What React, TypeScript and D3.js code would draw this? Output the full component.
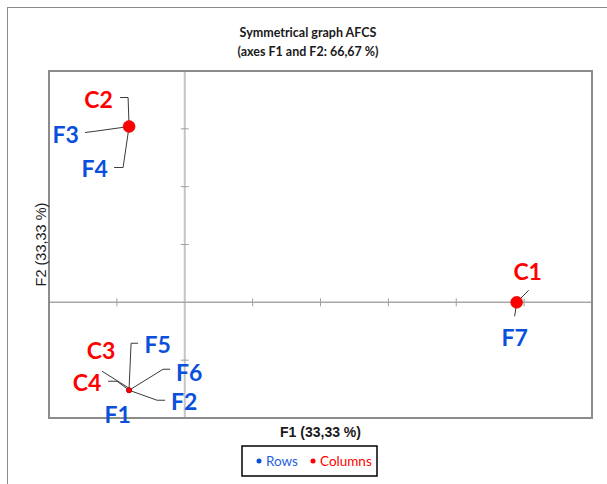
import React from "react";
import * as d3 from "d3";

// ---- data ----
const rowNames = ["F1", "F2", "F3", "F4", "F5", "F6", "F7"];
const rowF1 = [-0.41, -0.41, -0.41, -0.41, -0.41, -0.41, 2.445];
const rowF2 = [-0.76, -0.76, 1.52, 1.52, -0.76, -0.76, 0];

const colNames = ["C1", "C2", "C3", "C4"];
const colF1 = [2.445, -0.41, -0.41, -0.41];
const colF2 = [0, 1.52, -0.76, -0.76];

const xDomain = [-1, 3];
const yDomain = [-1, 2];
const tickStep = 0.5;

const titleLines = ["Symmetrical graph AFCS", "(axes F1 and F2: 66,67 %)"];
const xTitle = "F1 (33,33 %)";
const yTitle = "F2 (33,33 %)";
const legendItems = ["Rows", "Columns"];

// ---- layout (pixel offsets of labels relative to their point) ----
type LabelLayout = { dx: number; dy: number; leader: [number, number][] };
const rowLabelLayout: Record<string, LabelLayout> = {
  F1: { dx: -11.5, dy: 33, leader: [] },
  F2: { dx: 55, dy: 20, leader: [[36, 10], [28, 10], [0, 0]] },
  F3: { dx: -63.5, dy: 16, leader: [[-44, 6], [-36, 5], [0, 0]] },
  F4: { dx: -34.5, dy: 50, leader: [[-15, 41], [-6, 41], [0, 0]] },
  F5: { dx: 28.5, dy: -37, leader: [[9, -47], [2, -47], [0, -2]] },
  F6: { dx: 60, dy: -9, leader: [[41, -21], [34, -21], [0, 0]] },
  F7: { dx: -2, dy: 44, leader: [[-2, 14], [0, 0]] },
};
const colLabelLayout: Record<string, LabelLayout> = {
  C1: { dx: 11, dy: -22, leader: [[12, -12], [0, 0]] },
  C2: { dx: -30.5, dy: -19, leader: [[-9, -29], [-1, -29], [0, 0]] },
  C3: { dx: -28, dy: -31, leader: [[-27, -19], [0, -2]] },
  C4: { dx: -42, dy: 1, leader: [[-21, -9], [-12, -9], [0, 0]] },
};
const colRadius = [6, 6, 2.5, 2.5];

const W = 607;
const H = 484;
const plot = { left: 49, right: 592, top: 71, bottom: 418 };

const RED = "#ff0000";
const BLUE = "#0a50dc";
const LABEL_FONT = "Lato, 'Open Sans', sans-serif";

export default function App() {
  const x = d3.scaleLinear().domain(xDomain).range([plot.left, plot.right]);
  const y = d3.scaleLinear().domain(yDomain).range([plot.bottom, plot.top]);
  const x0 = x(0);
  const y0 = y(0);
  const xTicks = d3.range(xDomain[0] + tickStep, xDomain[1] - 1e-9, tickStep).filter((v) => Math.abs(v) > 1e-9);
  const yTicks = d3.range(yDomain[0] + tickStep, yDomain[1] - 1e-9, tickStep).filter((v) => Math.abs(v) > 1e-9);
  const line = d3.line<[number, number]>();

  const renderLabel = (
    name: string,
    px: number,
    py: number,
    lay: LabelLayout,
    color: string
  ) => (
    <g key={"lab-" + name}>
      {lay.leader.length > 1 && (
        <path
          d={line(lay.leader.map(([a, b]) => [px + a, py + b] as [number, number])) || ""}
          fill="none"
          stroke="#3a3a3a"
          strokeWidth={1}
        />
      )}
      <text
        x={px + lay.dx}
        y={py + lay.dy}
        textAnchor="middle"
        fontFamily={LABEL_FONT}
        fontWeight="bold"
        fontSize={23}
        fill={color}
      >
        {name}
      </text>
    </g>
  );

  return (
    <svg
      width={W}
      height={H}
      style={{ position: "absolute", left: 0, top: 0, background: "#fff" }}
    >
      <rect x={0} y={0} width={W} height={H} fill="#fff" />
      {/* outer frame */}
      <rect x={7.5} y={7.5} width={W + 20} height={H + 20} fill="none" stroke="#8a8a8a" strokeWidth={1} />

      {/* title */}
      {titleLines.map((t, i) => (
        <text
          key={t}
          x={308}
          y={37 + i * 19}
          textAnchor="middle"
          fontFamily={LABEL_FONT}
          fontWeight="bold"
          fontSize={12.5}
          fill="#1a1a1a"
        >
          {t}
        </text>
      ))}

      {/* zero axes */}
      <line x1={x0} x2={x0} y1={plot.top} y2={plot.bottom} stroke="#c4c4c4" strokeWidth={2} />
      <line x1={plot.left} x2={plot.right} y1={y0} y2={y0} stroke="#a8a8a8" strokeWidth={1.5} />
      {xTicks.map((v) => (
        <line key={"xt" + v} x1={x(v)} x2={x(v)} y1={y0 - 4} y2={y0 + 4} stroke="#a0a0a0" strokeWidth={1} />
      ))}
      {yTicks.map((v) => (
        <line key={"yt" + v} x1={x0 - 4} x2={x0 + 4} y1={y(v)} y2={y(v)} stroke="#a0a0a0" strokeWidth={1} />
      ))}

      {/* plot border */}
      <rect
        x={plot.left}
        y={plot.top}
        width={plot.right - plot.left}
        height={plot.bottom - plot.top}
        fill="none"
        stroke="#8c8c8c"
        strokeWidth={2}
      />

      {/* labels with leaders */}
      {rowNames.map((n, i) => renderLabel(n, x(rowF1[i]), y(rowF2[i]), rowLabelLayout[n], BLUE))}
      {colNames.map((n, i) => renderLabel(n, x(colF1[i]), y(colF2[i]), colLabelLayout[n], RED))}

      {/* points */}
      {rowNames.map((n, i) => (
        <circle key={"rp" + n} cx={x(rowF1[i])} cy={y(rowF2[i])} r={2.5} fill={BLUE} />
      ))}
      {colNames.map((n, i) => (
        <circle key={"cp" + n} cx={x(colF1[i])} cy={y(colF2[i])} r={colRadius[i]} fill={RED} stroke="#cc0000" strokeWidth={0.5} />
      ))}

      {/* axis titles */}
      <text
        x={(plot.left + plot.right) / 2 + 0}
        y={437}
        textAnchor="middle"
        fontFamily="'Liberation Sans', Arial, sans-serif"
        fontWeight="bold"
        fontSize={14}
        fill="#1a1a1a"
      >
        {xTitle}
      </text>
      <text
        transform={`translate(46, ${(plot.top + plot.bottom) / 2}) rotate(-90)`}
        textAnchor="middle"
        fontFamily="'Liberation Sans', Arial, sans-serif"
        fontSize={14.5}
        fill="#1a1a1a"
      >
        {yTitle}
      </text>

      {/* legend */}
      <rect x={242} y={446} width={135} height={30} fill="#fff" stroke="#000" strokeWidth={1.5} />
      <circle cx={259} cy={461} r={2.5} fill={BLUE} />
      <text x={266} y={466} fontFamily={LABEL_FONT} fontSize={13.5} fill="#1f5fe0">
        {legendItems[0]}
      </text>
      <circle cx={313} cy={461} r={2.5} fill={RED} />
      <text x={320} y={466} fontFamily={LABEL_FONT} fontSize={13.5} fill={RED}>
        {legendItems[1]}
      </text>
    </svg>
  );
}
